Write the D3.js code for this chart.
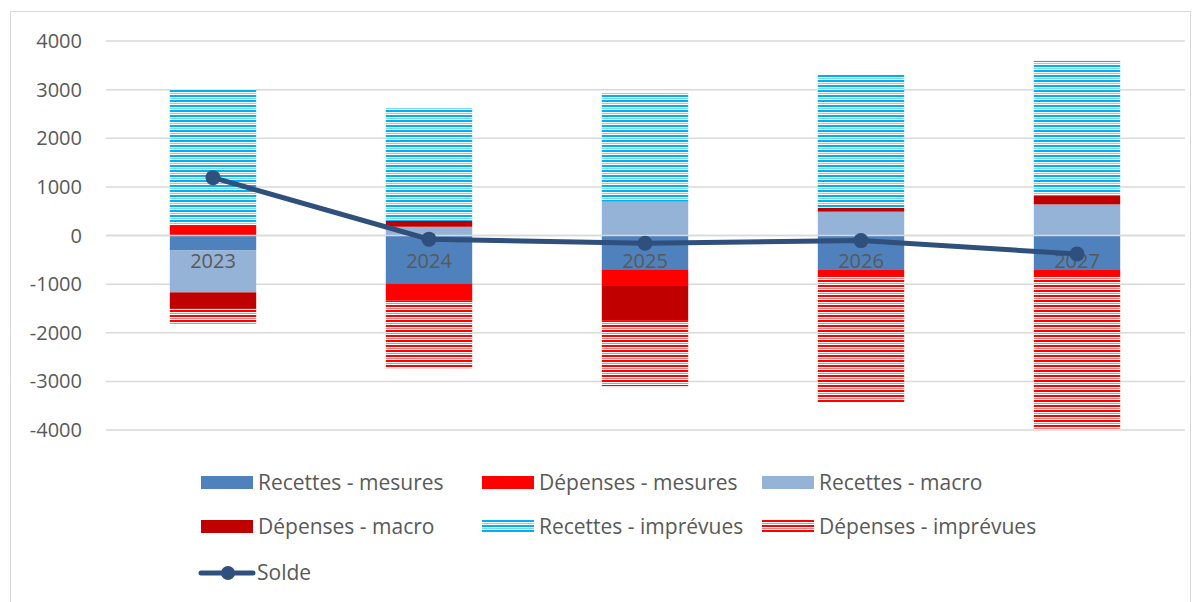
<!DOCTYPE html>
<html><head><meta charset="utf-8">
<script src="https://cdn.jsdelivr.net/npm/d3@7"></script>
<style>body{margin:0;background:#fff}svg{display:block}text{font-family:"Open Sans",sans-serif;fill:#595959}</style>
</head><body>
<svg id="c" width="1200" height="602"></svg>
<script>
const years = ["2023","2024","2025","2026","2027"];
const recettesMesures = [-300, -985, -695, -710, -710];
const depensesMesures = [215, -355, -325, -103, -103];
const recettesMacro = [-870, 180, 695, 490, 640];
const depensesMacro = [-340, 120, -720, 82, 172];
const recettesImprevues = [2785, 2340, 2250, 2750, 2778];
const depensesImprevues = [-330, -1390, -1358, -2627, -3175];
const solde = [1190, -75, -160, -105, -380];
const yTicks = [4000,3000,2000,1000,0,-1000,-2000,-3000,-4000];
const seriesNames = ["Recettes - mesures","Dépenses - mesures","Recettes - macro","Dépenses - macro","Recettes - imprévues","Dépenses - imprévues"];
const seriesValues = [recettesMesures, depensesMesures, recettesMacro, depensesMacro, recettesImprevues, depensesImprevues];
const fills = ["#4F81BD","#FF0000","#95B3D7","#C00000","url(#pBlue)","url(#pRed)"];

const svg = d3.select("#c");
const defs = svg.append("defs");
function pattern(id, col){
  const p = defs.append("pattern").attr("id",id).attr("patternUnits","userSpaceOnUse").attr("width",8).attr("height",5);
  p.append("rect").attr("width",8).attr("height",5).attr("fill","#fff");
  p.append("rect").attr("y",0).attr("width",8).attr("height",2).attr("fill",col);
  p.append("rect").attr("y",3).attr("width",8).attr("height",1).attr("fill",col).attr("opacity",0.5);
}
pattern("pBlue","#00B0F0");
pattern("pRed","#FF0000");

svg.append("rect").attr("x",10.5).attr("y",11.5).attr("width",1180).attr("height",600).attr("fill","none").attr("stroke","#D9D9D9").attr("stroke-width",1);

const x = d3.scaleBand().domain(years).range([105,1185]).paddingInner(0.6).paddingOuter(0.3);
const y = d3.scaleLinear().domain([-4000,4000]).range([430,41]);

svg.append("g").selectAll("line").data(yTicks).join("line")
  .attr("x1",106).attr("x2",1185).attr("y1",d=>y(d)).attr("y2",d=>y(d))
  .attr("stroke","#D9D9D9").attr("stroke-width",1.5);
svg.append("g").selectAll("text").data(yTicks).join("text")
  .attr("x",82).attr("y",d=>y(d)).attr("dy","0.35em").attr("text-anchor","end")
  .attr("font-size",20).text(d=>d);

const rows = years.map((yr,i)=>{const o={year:yr}; seriesNames.forEach((n,k)=>o[n]=seriesValues[k][i]); return o;});
const stack = d3.stack().keys(seriesNames).offset(d3.stackOffsetDiverging)(rows);
svg.append("g").selectAll("g").data(stack).join("g").attr("fill",(d,i)=>fills[i])
  .selectAll("rect").data(d=>d).join("rect")
  .attr("x",d=>x(d.data.year)).attr("width",x.bandwidth())
  .attr("y",d=>y(Math.max(d[0],d[1]))).attr("height",d=>Math.abs(y(d[0])-y(d[1])));

svg.append("line").attr("x1",106).attr("x2",1185).attr("y1",y(0)).attr("y2",y(0)).attr("stroke","#D9D9D9").attr("stroke-width",1.5);

svg.append("g").selectAll("text").data(years).join("text")
  .attr("x",d=>x(d)+x.bandwidth()/2).attr("y",y(0)+32)
  .attr("text-anchor","middle").attr("font-size",20).text(d=>d);

const cx = d=>x(d)+x.bandwidth()/2;
svg.append("path").datum(years).attr("fill","none").attr("stroke","#2F4F7D").attr("stroke-width",5)
  .attr("d",d3.line().x(cx).y((d,i)=>y(solde[i])));
svg.append("g").selectAll("circle").data(years).join("circle")
  .attr("cx",cx).attr("cy",(d,i)=>y(solde[i])).attr("r",7.5).attr("fill","#2F4F7D");

const lg = svg.append("g");
const legItems = seriesNames.map((n,i)=>({name:n,fill:fills[i],col:i%3,row:Math.floor(i/3)}));
const colX = [201,482,762], rowY=[483,527];
legItems.forEach(it=>{
  const gx = colX[it.col], gy = rowY[it.row];
  lg.append("rect").attr("x",gx).attr("y",gy-7).attr("width",52).attr("height",13).attr("fill",it.fill);
  lg.append("text").attr("x",gx+57).attr("y",gy).attr("dy","0.35em").attr("font-size",21).text(it.name);
});
lg.append("line").attr("x1",201).attr("x2",253).attr("y1",573).attr("y2",573).attr("stroke","#2F4F7D").attr("stroke-width",5).attr("stroke-linecap","round");
lg.append("circle").attr("cx",228).attr("cy",573).attr("r",7).attr("fill","#2F4F7D");
lg.append("text").attr("x",257).attr("y",573).attr("dy","0.35em").attr("font-size",21).text("Solde");
</script>
</body></html>
